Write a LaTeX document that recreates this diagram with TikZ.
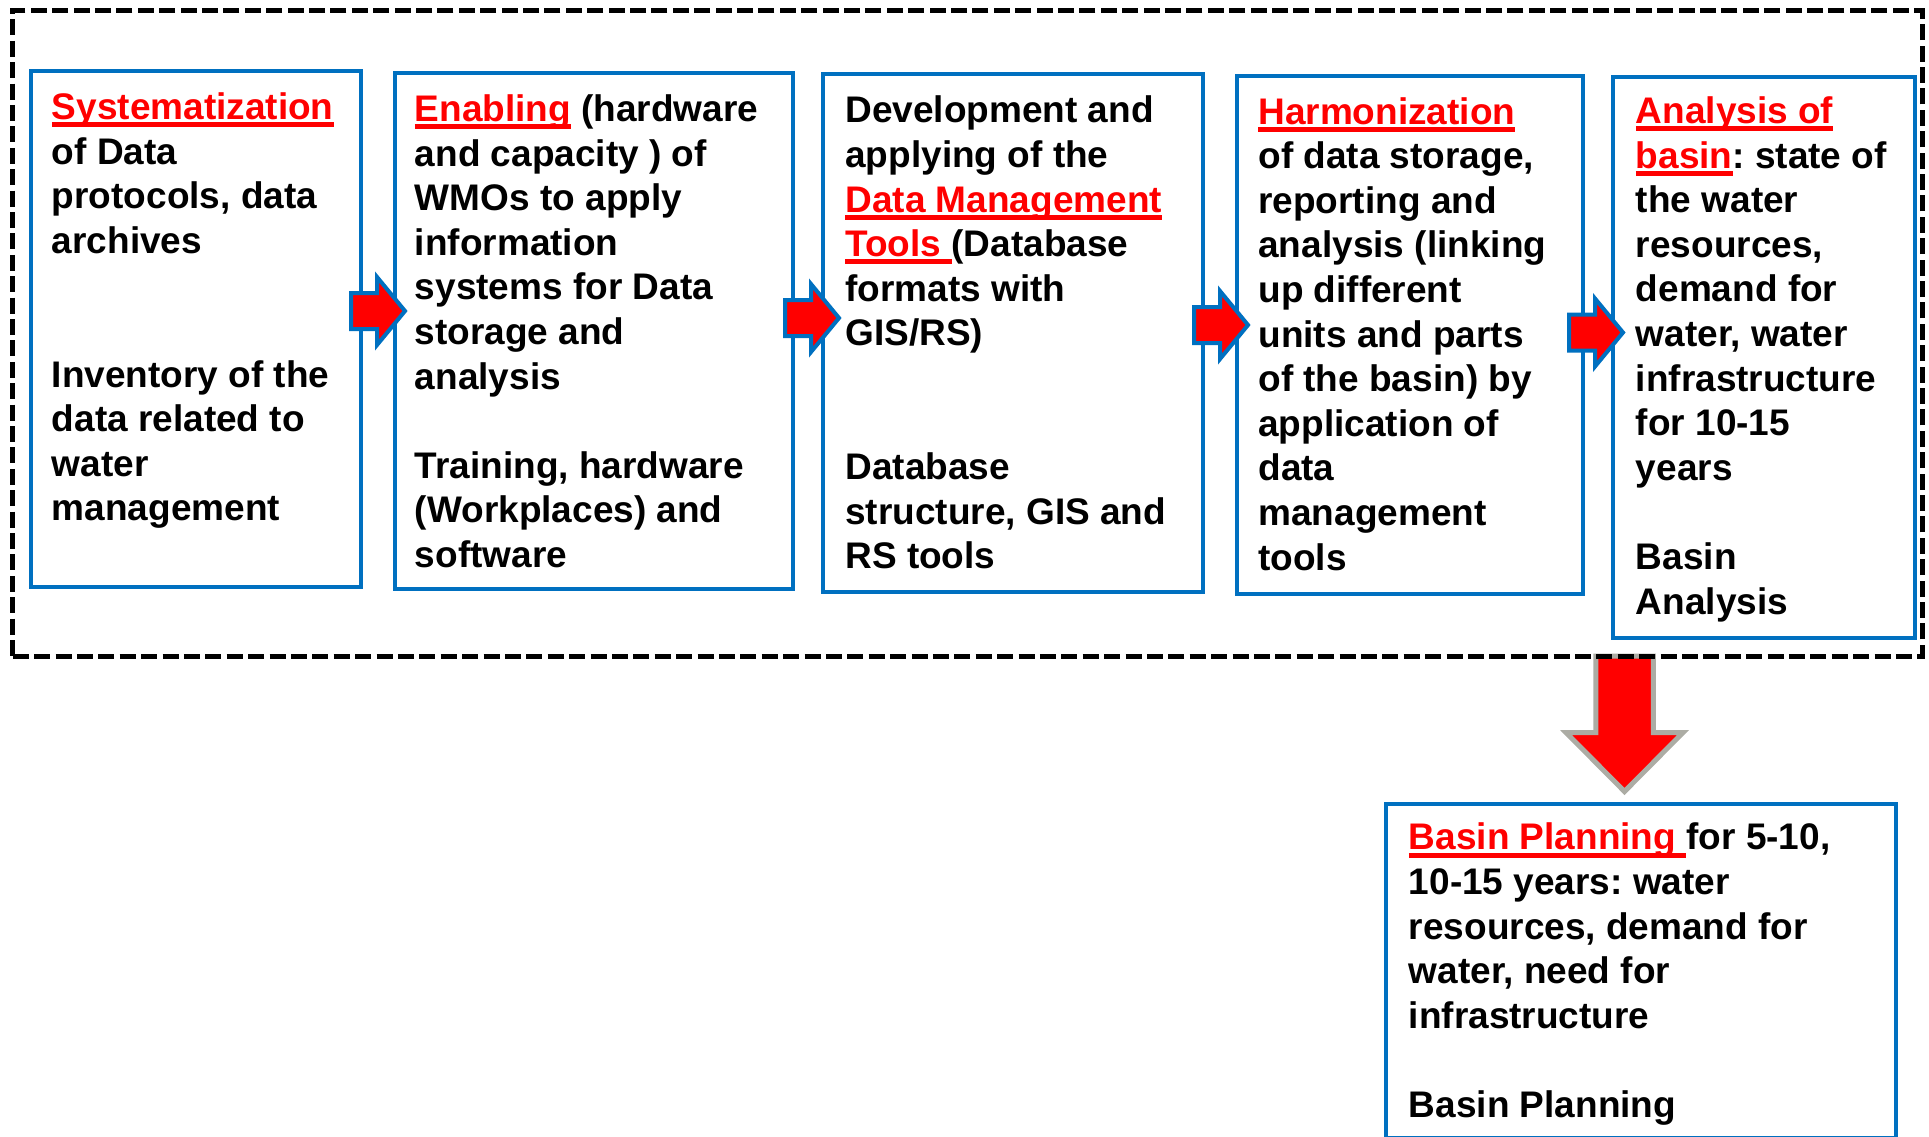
\documentclass[tikz,border=0pt]{standalone}
\usepackage{fontspec}
\setmainfont{Liberation Sans}
\definecolor{boxblue}{RGB}{0,112,192}
\definecolor{hlred}{RGB}{255,0,0}
\definecolor{arrgray}{RGB}{172,172,164}
\newsavebox\ulbox
\newcommand\uln[1]{\sbox\ulbox{#1}\rlap{\rule[-3.8pt]{\wd\ulbox}{2.5pt}}\usebox\ulbox}
\newcommand\hl[1]{\textcolor{hlred}{\uln{#1}}}
\frenchspacing
\begin{document}
\begin{tikzpicture}[x=0.5pt,y=-0.5pt,
  box/.style={draw=boxblue, line width=2pt, inner sep=0pt, fill=white},
  txt/.style={anchor=north west, inner sep=0pt, align=left,
    font=\fontsize{18.5}{22.3}\selectfont\bfseries\frenchspacing},
  frame/.style={draw=black, line width=2.5pt, dash pattern=on 8pt off 2.7pt, inner sep=0pt},
  rarrow/.pic={\draw[draw=boxblue, fill=hlred, line width=2pt]
     (0,-18) -- (26,-18) -- (26,-34) -- (54,0) -- (26,34) -- (26,18) -- (0,18) -- cycle;}
]
\useasboundingbox (0,0) rectangle (1929,1136);

% boxes
\node[box, minimum width=164.75pt, minimum height=258pt] (b1) at (195.75,329) {};
\node[box, minimum width=198.75pt, minimum height=258pt] (b2) at (593.75,331) {};
\node[box, minimum width=190pt, minimum height=259pt] (b3) at (1012.5,333) {};
\node[box, minimum width=173pt, minimum height=259pt] (b4) at (1410,335) {};
\node[box, minimum width=151pt, minimum height=280.5pt] (b5) at (1764,357) {};
\node[box, minimum width=254.75pt, minimum height=167pt] (b6) at (1640.75,970.5) {};

% texts
\node[txt] (t1) at (51.5,87.8) {\strut\hl{Systematization}\\
of Data\\
protocols, data\\
archives\\[44.6pt]
Inventory of the\\
data related to\\
water\\
management};

\node[txt] (t2) at (414.5,89.8) {\strut\hl{Enabling} (hardware\\
and capacity ) of\\
WMOs to apply\\
information\\
systems for Data\\
storage and\\
analysis\\[22.3pt]
Training, hardware\\
(Workplaces) and\\
software};

\node[txt] (t3) at (845,91.3) {\strut Development and\\
applying of the\\
\hl{Data Management}\\
\hl{Tools\ }(Database\\
formats with\\
GIS/RS)\\[44.6pt]
Database\\
structure, GIS and\\
RS tools};

\node[txt] (t4) at (1258,92.5) {\strut\hl{Harmonization}\\
of data storage,\\
reporting and\\
analysis (linking\\
up different\\
units and parts\\
of the basin) by\\
application of\\
data\\
management\\
tools};

\node[txt] (t5) at (1635.5,91.8) {\strut\hl{Analysis of}\\
\hl{basin}: state of\\
the water\\
resources,\\
demand for\\
water, water\\
infrastructure\\
for 10-15\\
years\\[22.3pt]
Basin\\
Analysis};

\node[txt] (t6) at (1408.5,818.3) {\strut\hl{Basin Planning\ }for 5-10,\\
10-15 years: water\\
resources, demand for\\
water, need for\\
infrastructure\\[22.3pt]
Basin Planning};

% arrows between boxes
\pic at (351,311) {rarrow};
\pic at (785,318) {rarrow};
\pic at (1194,325) {rarrow};
\pic at (1569,332.5) {rarrow};

% down arrow
\draw[fill=hlred, draw=arrgray, line width=2.5pt]
  (1595.75,656) -- (1595.75,732.5) -- (1566,732.5) -- (1624.5,791.5)
  -- (1683,732.5) -- (1653.25,732.5) -- (1653.25,656) -- cycle;

% dashed frame
\node[frame, minimum width=954.65pt, minimum height=322.65pt] (fr) at (967.35,333.35) {};
\end{tikzpicture}
\end{document}
